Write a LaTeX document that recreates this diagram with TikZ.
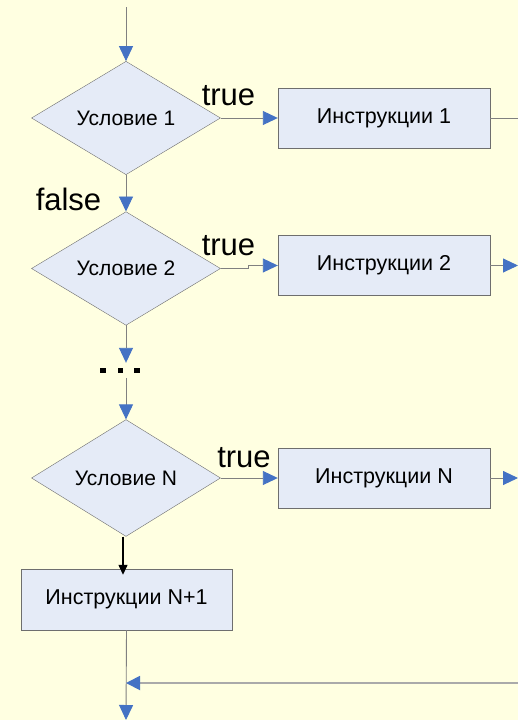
\documentclass[tikz,border=0pt]{standalone}
\usepackage{fontspec}
\setmainfont{Liberation Sans}
\usetikzlibrary{shapes.geometric,arrows.meta}
\definecolor{bgc}{RGB}{255,255,225}
\definecolor{fillc}{RGB}{229,235,247}
\definecolor{tipc}{RGB}{68,114,196}
\definecolor{linec}{RGB}{128,128,128}
\definecolor{edgec}{RGB}{110,110,110}
\definecolor{lightl}{RGB}{170,170,170}
\tikzset{
  cond/.style={diamond,draw=edgec,fill=fillc,inner sep=0pt,minimum width=189pt,minimum height=112pt,font=\fontsize{21}{25}\selectfont},
  instr/.style={rectangle,draw=edgec,fill=fillc,inner sep=0pt,minimum width=212pt,minimum height=60pt,font=\fontsize{21.5}{25}\selectfont},
  lbl/.style={inner sep=0pt,font=\fontsize{31}{36}\selectfont},
  flow/.style={draw=linec,line width=0.9pt,-{Triangle[length=15pt,width=14pt,color=tipc]}},
  plain/.style={draw=linec,line width=0.9pt},
  blackflow/.style={draw=black,line width=1.3pt,-{Triangle[length=10pt,width=9pt]}}
}
\begin{document}
\begin{tikzpicture}[x=1pt,y=-1pt]
\useasboundingbox[fill=bgc] (0,0) rectangle (518,720);
\coordinate (start) at (126,7);
\node[cond] (d1) at (126,118) {Условие 1};
\node[cond] (d2) at (126,268.5) {Условие 2};
\node[cond] (dN) at (126,478) {Условие N};
\node[instr] (b1) at (384,118) {Инструкции 1};
\node[instr] (b2) at (384,265.5) {Инструкции 2};
\node[instr] (bN) at (384,478) {Инструкции N};
\node[instr,minimum width=211pt,minimum height=61pt] (bN1) at (126.5,599.5) {Инструкции N+1};
\node[inner sep=0pt,minimum height=15pt] (dots) at (120,370.5) {\raisebox{-3.5pt}{\rule{5.5pt}{5.5pt}\hspace{12pt}\rule{5.5pt}{5.5pt}\hspace{11pt}\rule{5.5pt}{5.5pt}}};
\node[lbl] (t1) at (228.5,96) {true};
\node[lbl] (t2) at (228.5,246) {true};
\node[lbl] (tN) at (244,458) {true};
\node[lbl] (f1) at (68.5,199) {false};
\coordinate (r1) at (518,118);
\coordinate (r2) at (518,265.5);
\coordinate (rN) at (518,478);
\coordinate (back) at (518,683);
\coordinate (join) at (126,683);
\coordinate (finish) at (126,720);
% connectors
\draw[flow] (start) -- (d1.north);
\draw[flow] (d1.east) -- (b1.west);
\draw[plain] (b1.east) -- (r1);
\draw[flow] (d1.south) -- (d2.north);
\draw[flow] (d2.east) -- ++(28,0) |- (b2.west);
\draw[flow] (b2.east) -- (r2);
\draw[flow] (d2.south) -- (d2.south |- dots.north);
\draw[flow] (d2.south |- dots.south) -- (dN.north);
\draw[flow] (dN.east) -- (bN.west);
\draw[flow] (bN.east) -- (rN);
\draw[blackflow] ([xshift=-3pt]dN.south) -- ([xshift=-3.5pt,yshift=-6pt]bN1.north);
\draw[flow] (bN1.south) -- (finish);
\draw[draw=lightl,line width=1.8pt,-{Triangle[length=14pt,width=14pt,color=tipc]}] (back) -- (join);
\end{tikzpicture}
\end{document}
